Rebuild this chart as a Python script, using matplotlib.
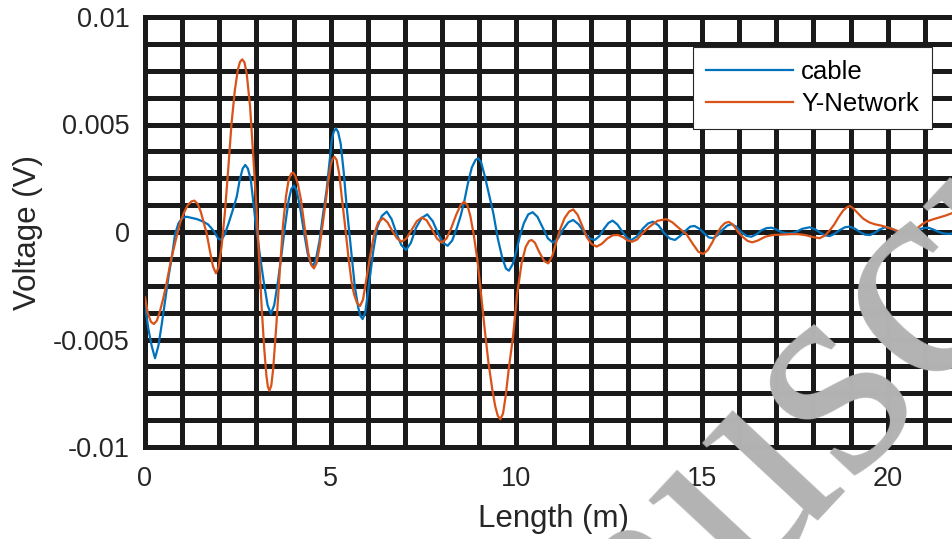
import numpy as np
import matplotlib
matplotlib.use("Agg")
import matplotlib.pyplot as plt

# values (x in m, y in mV)
cable_x = [0.00, 0.09, 0.18, 0.27, 0.36, 0.45, 0.55, 0.64, 0.72, 0.81,
           0.90, 1.00, 1.12, 1.25, 1.40, 1.57, 1.70, 1.85, 1.97, 2.06,
           2.15, 2.25, 2.36, 2.47, 2.55, 2.63, 2.70, 2.77, 2.85, 2.96,
           3.08, 3.19, 3.30, 3.39, 3.48, 3.58, 3.68, 3.78, 3.87, 3.94,
           4.01, 4.08, 4.17, 4.28, 4.38, 4.46, 4.53, 4.60, 4.70, 4.80,
           4.89, 4.97, 5.03, 5.08, 5.14, 5.20, 5.27, 5.35, 5.43, 5.54,
           5.65, 5.74, 5.80, 5.86, 5.93, 6.02, 6.15, 6.25, 6.38, 6.51,
           6.64, 6.78, 6.90, 7.03, 7.16, 7.30, 7.45, 7.60, 7.75, 7.90,
           8.02, 8.15, 8.27, 8.40, 8.50, 8.60, 8.70, 8.80, 8.90, 8.97,
           9.05, 9.15, 9.27, 9.38, 9.50, 9.62, 9.72, 9.80, 9.90, 10.00,
           10.09, 10.20, 10.32, 10.44, 10.57, 10.71, 10.85, 10.99, 11.12, 11.25,
           11.40, 11.53, 11.68, 11.84, 11.98, 12.11, 12.23, 12.36, 12.48, 12.59,
           12.72, 12.86, 12.98, 13.10, 13.25, 13.40, 13.55, 13.68, 13.83, 13.98,
           14.13, 14.27, 14.40, 14.55, 14.68, 14.80, 14.93, 15.05, 15.18, 15.30,
           15.42, 15.55, 15.68, 15.79, 15.92, 16.05, 16.20, 16.33, 16.47, 16.60,
           16.74, 16.87, 17.00, 17.13, 17.27, 17.42, 17.55, 17.70, 17.90, 18.05,
           18.20, 18.32, 18.44, 18.57, 18.70, 18.85, 18.98, 19.12, 19.25, 19.38,
           19.52, 19.64, 19.77, 19.90, 20.01, 20.15, 20.28, 20.42, 20.55, 20.68,
           20.82, 20.95, 21.09, 21.22, 21.35, 21.50, 21.67, 21.85, 22.00]
cable_mv = [-3.40, -4.50, -5.30, -5.87, -5.30, -4.30, -3.10, -2.00, -1.20, -0.10,
            0.40, 0.65, 0.71, 0.66, 0.60, 0.48, 0.35, 0.05, -0.30, -0.37,
            -0.10, 0.40, 1.00, 1.64, 2.42, 2.95, 3.12, 2.95, 2.42, 0.71,
            -0.90, -2.23, -3.40, -3.81, -3.40, -2.30, -0.99, 0.40, 1.50, 2.00,
            2.16, 1.95, 1.20, 0.00, -1.00, -1.45, -1.55, -1.30, -0.40, 0.90,
            1.95, 3.30, 4.28, 4.65, 4.82, 4.65, 4.10, 2.80, 1.18, -0.70,
            -2.54, -3.50, -3.90, -4.05, -3.75, -2.60, -0.84, 0.20, 0.75, 0.95,
            0.60, -0.10, -0.60, -0.84, -0.50, 0.20, 0.65, 0.82, 0.50, -0.10,
            -0.50, -0.64, -0.40, 0.20, 0.75, 1.45, 2.30, 3.00, 3.35, 3.43,
            3.25, 2.60, 1.70, 0.87, -0.30, -1.20, -1.70, -1.80, -1.50, -0.90,
            -0.22, 0.40, 0.82, 0.92, 0.70, 0.20, -0.30, -0.50, -0.30, 0.10,
            0.45, 0.56, 0.35, -0.05, -0.30, -0.37, -0.20, 0.15, 0.42, 0.53,
            0.35, 0.00, -0.28, -0.37, -0.20, 0.15, 0.40, 0.48, 0.30, -0.05,
            -0.30, -0.37, -0.20, 0.05, 0.25, 0.28, 0.15, -0.05, -0.25, -0.29,
            -0.15, 0.10, 0.30, 0.36, 0.25, 0.00, -0.18, -0.22, -0.10, 0.08,
            0.18, 0.20, 0.12, 0.00, -0.06, -0.06, 0.02, 0.15, 0.22, 0.12,
            -0.05, -0.16, -0.19, -0.08, 0.08, 0.22, 0.25, 0.15, 0.00, -0.12,
            -0.14, -0.05, 0.10, 0.20, 0.22, 0.12, -0.02, -0.12, -0.14, -0.05,
            0.10, 0.18, 0.20, 0.12, 0.02, -0.07, -0.09, -0.02, 0.05]

ynet_x = [0.00, 0.08, 0.16, 0.24, 0.32, 0.40, 0.49, 0.58, 0.70, 0.85,
          0.95, 1.05, 1.15, 1.25, 1.33, 1.42, 1.50, 1.58, 1.66, 1.75,
          1.83, 1.91, 1.98, 2.06, 2.15, 2.24, 2.33, 2.42, 2.50, 2.56,
          2.62, 2.68, 2.74, 2.83, 2.92, 3.01, 3.08, 3.14, 3.21, 3.27,
          3.31, 3.35, 3.40, 3.45, 3.54, 3.63, 3.72, 3.80, 3.87, 3.94,
          3.99, 4.05, 4.12, 4.20, 4.30, 4.40, 4.48, 4.55, 4.62, 4.70,
          4.78, 4.85, 4.93, 5.00, 5.05, 5.10, 5.16, 5.23, 5.30, 5.38,
          5.48, 5.56, 5.63, 5.71, 5.79, 5.87, 5.96, 6.06, 6.17, 6.28,
          6.41, 6.53, 6.66, 6.79, 6.91, 7.04, 7.18, 7.32, 7.45, 7.58,
          7.72, 7.86, 7.99, 8.12, 8.25, 8.38, 8.50, 8.59, 8.68, 8.76,
          8.85, 8.95, 9.05, 9.15, 9.25, 9.35, 9.43, 9.50, 9.57, 9.64,
          9.71, 9.80, 9.91, 10.02, 10.14, 10.25, 10.34, 10.41, 10.50, 10.62,
          10.75, 10.86, 10.97, 11.07, 11.17, 11.30, 11.42, 11.53, 11.65, 11.77,
          11.89, 12.02, 12.16, 12.30, 12.45, 12.60, 12.74, 12.88, 13.00, 13.12,
          13.25, 13.40, 13.59, 13.80, 14.04, 14.20, 14.40, 14.58, 14.75, 14.90,
          15.03, 15.15, 15.27, 15.39, 15.52, 15.62, 15.72, 15.83, 15.97, 16.11,
          16.23, 16.35, 16.50, 16.70, 16.90, 17.15, 17.40, 17.60, 17.80, 18.00,
          18.17, 18.32, 18.45, 18.56, 18.68, 18.80, 18.90, 18.98, 19.07, 19.18,
          19.34, 19.50, 19.65, 19.82, 19.98, 20.12, 20.25, 20.40, 20.52, 20.65,
          20.80, 20.92, 21.04, 21.20, 21.40, 21.55, 21.67, 21.85, 22.00]
ynet_mv = [-3.04, -3.80, -4.18, -4.28, -4.12, -3.70, -3.10, -2.39, -1.30, -0.22,
           0.45, 0.90, 1.25, 1.42, 1.46, 1.30, 0.95, 0.45, -0.06, -0.90,
           -1.60, -1.92, -1.65, -0.70, 0.87, 2.90, 5.05, 6.60, 7.55, 7.92,
           8.03, 7.88, 7.35, 5.83, 3.40, 0.87, -1.50, -3.47, -5.40, -6.70,
           -7.20, -7.38, -7.15, -6.40, -4.25, -1.80, 0.40, 1.70, 2.45, 2.72,
           2.76, 2.60, 2.20, 1.50, 0.20, -1.00, -1.55, -1.69, -1.45, -0.70,
           0.30, 1.18, 2.30, 3.10, 3.40, 3.50, 3.35, 2.70, 1.60, 0.40,
           -1.20, -2.30, -2.90, -3.30, -3.44, -3.15, -2.20, -1.15, -0.10, 0.45,
           0.64, 0.45, 0.05, -0.30, -0.45, -0.30, 0.10, 0.50, 0.67, 0.55,
           0.15, -0.30, -0.50, -0.30, 0.20, 0.80, 1.25, 1.41, 1.25, 0.75,
           -0.10, -1.30, -2.90, -4.56, -6.10, -7.30, -8.10, -8.55, -8.71, -8.45,
           -7.66, -6.30, -4.87, -2.90, -1.46, -0.70, -0.42, -0.37, -0.50, -0.95,
           -1.35, -1.46, -1.10, -0.50, 0.09, 0.65, 0.95, 1.05, 0.80, 0.30,
           -0.22, -0.55, -0.68, -0.55, -0.30, -0.15, -0.14, -0.25, -0.40, -0.45,
           -0.35, -0.05, 0.25, 0.52, 0.60, 0.45, 0.15, -0.10, -0.55, -0.92,
           -1.02, -0.85, -0.50, -0.10, 0.25, 0.42, 0.47, 0.35, 0.00, -0.25,
           -0.42, -0.48, -0.40, -0.22, -0.14, -0.12, -0.10, -0.10, -0.15, -0.24,
           -0.29, -0.15, 0.10, 0.35, 0.70, 1.00, 1.15, 1.21, 1.10, 0.90,
           0.62, 0.45, 0.36, 0.30, 0.22, 0.14, 0.06, 0.00, -0.03, 0.02,
           0.18, 0.35, 0.48, 0.58, 0.68, 0.76, 0.84, 0.95, 1.02]

xticks = [0, 5, 10, 15, 20]
yticks = [-0.01, -0.005, 0, 0.005, 0.01]
ytick_labels = ['-0.01', '-0.005', '0', '0.005', '0.01']

plt.rcParams['font.family'] = ['Liberation Sans', 'DejaVu Sans']

fig = plt.figure(figsize=(9.52, 5.39), dpi=100)
ax = fig.add_axes([145/952, 92/539, 817/952, 430/539])
ax.set_facecolor('none')

# grey watermark behind the axes
fig.text(370/952, (539-992)/539, 'Manuscript', family='Liberation Serif', fontsize=216,
         color='#b3b3b3', rotation=47, rotation_mode='anchor', ha='left', va='baseline', zorder=0)

ax.plot(cable_x, np.array(cable_mv)*1e-3, color='#0072BD', lw=1.6, label='cable', zorder=3)
ax.plot(ynet_x, np.array(ynet_mv)*1e-3, color='#D95319', lw=1.6, label='Y-Network', zorder=3)

ax.set_xlim(0, 22)
ax.set_ylim(-0.01, 0.01)
ax.set_xticks(xticks)
ax.set_xticks(np.arange(0, 23, 1), minor=True)
ax.set_yticks(yticks)
ax.set_yticklabels(ytick_labels)
ax.set_yticks(np.linspace(-0.01, 0.01, 17), minor=True)
ax.grid(which='both', color='#1a1a1a', lw=3.6)
ax.set_axisbelow(True)
ax.tick_params(which='both', length=0, labelsize=19.5, colors='#262626')
ax.tick_params(axis='x', pad=14)
ax.tick_params(axis='y', pad=11)
for s in ax.spines.values():
    s.set_color('#1a1a1a')
    s.set_linewidth(3.6)

ax.set_xlabel('Length (m)', fontsize=22.5, color='#262626', labelpad=8)
ax.set_ylabel('Voltage (V)', fontsize=22.5, color='#262626', labelpad=7)

leg = ax.legend(loc='upper right', bbox_to_anchor=(0.963, 0.930), borderaxespad=0,
                fontsize=18.5, frameon=True, fancybox=False, handlelength=3.4,
                handletextpad=0.3, borderpad=0.5, labelspacing=0.3)
leg.get_frame().set_edgecolor('#262626')
leg.get_frame().set_linewidth(0.8)
leg.get_frame().set_alpha(1)
leg.set_zorder(5)

fig.savefig('out.png', dpi=100)
